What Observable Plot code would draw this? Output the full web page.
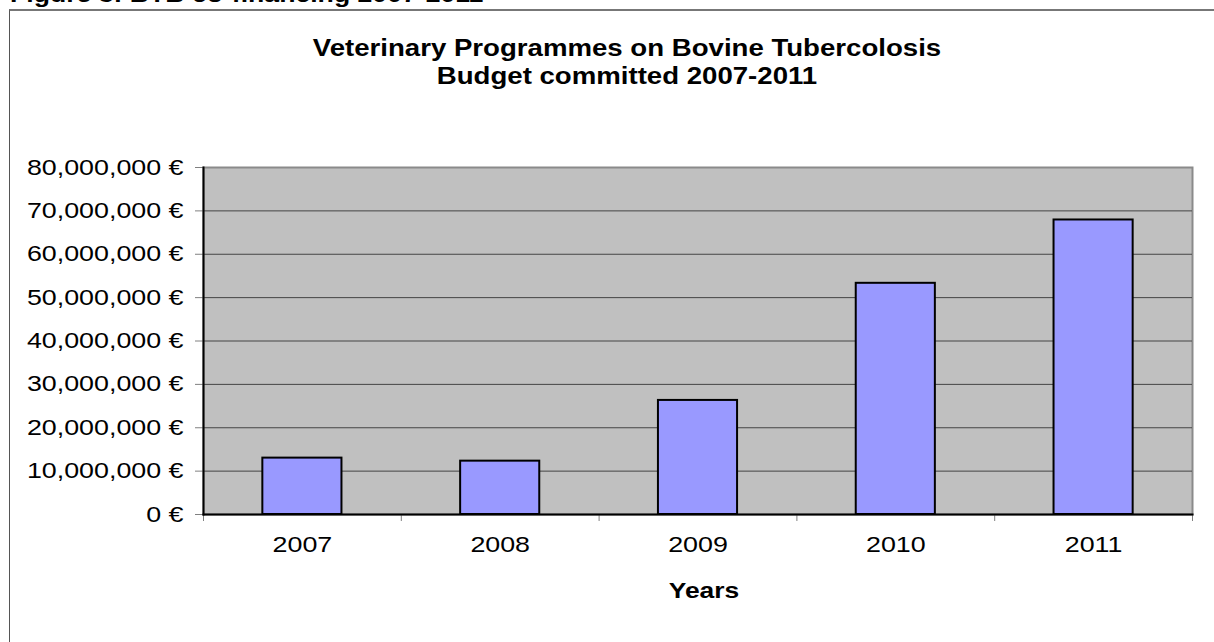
<!DOCTYPE html>
<html>
<head>
<meta charset="utf-8">
<script src="https://cdn.jsdelivr.net/npm/d3@7"></script>
<script src="https://cdn.jsdelivr.net/npm/@observablehq/plot@0.6"></script>
<style>
  html, body { margin: 0; padding: 0; background: #fff; overflow: hidden; }
  body { width: 1214px; height: 642px; position: relative; font-family: "Liberation Sans", Arial, sans-serif; }
  #frame { position: absolute; left: 9px; top: 9px; width: 1300px; height: 700px; border-left: 1px solid #555; border-top: 2px solid #777; }
  .t { position: absolute; white-space: nowrap; color: #000; }
  #caption { left: 10px; top: -18px; font-size: 22px; font-weight: bold; transform: scaleX(1.21); transform-origin: left center; }
  #title { left: 0; width: 1254px; top: 34px; text-align: center; font-size: 23px; font-weight: bold; line-height: 28px; transform: scaleX(1.2); transform-origin: 627px center; }
  #xlabel { left: 0; width: 1408px; top: 578px; text-align: center; font-size: 22px; font-weight: bold; transform: scaleX(1.2); transform-origin: 704px center; }
  #chart { position: absolute; left: 0; top: 0; }
</style>
</head>
<body>
<div id="frame"></div>
<div class="t" id="caption">Figure 3: BTB co-financing 2007-2011</div>
<div class="t" id="title">Veterinary Programmes on Bovine Tubercolosis<br>Budget committed 2007-2011</div>
<div class="t" id="xlabel">Years</div>
<div id="chart"></div>
<script>
const years = [2007, 2008, 2009, 2010, 2011];
const budget = [13000000, 12300000, 26300000, 53300000, 67900000];
const yTicks = [0, 10000000, 20000000, 30000000, 40000000, 50000000, 60000000, 70000000, 80000000];
const xBoundaries = [2006.5, 2007.5, 2008.5, 2009.5, 2010.5, 2011.5];

const data = years.map((y, i) => ({year: y, value: budget[i]}));
const fmt = d3.format(",");

const chart = Plot.plot({
  width: 1214,
  height: 642,
  marginLeft: 203,
  marginRight: 22,
  marginTop: 167,
  marginBottom: 128,
  style: {fontFamily: '"Liberation Sans", Arial, sans-serif', fontSize: "22px", color: "#000", background: "transparent"},
  x: {domain: [2006.5, 2011.5]},
  y: {domain: [0, 80000000]},
  marks: [
    Plot.frame({fill: "#c0c0c0", stroke: "#8a8a8a", strokeWidth: 2}),
    Plot.gridY(yTicks.slice(1, -1), {stroke: "#444", strokeOpacity: 1, strokeWidth: 1}),
    Plot.rectY(data, {x1: d => d.year - 0.2, x2: d => d.year + 0.2, y: "value", fill: "#9999ff", stroke: "#000", strokeWidth: 2}),
    Plot.axisY(yTicks, {tickFormat: d => fmt(d) + " €", tickSize: 8, tickPadding: 12, stroke: "#808080", fill: "#000", label: null}),
    Plot.axisX(xBoundaries, {tickFormat: () => "", tickSize: 7, stroke: "#808080", label: null}),
    Plot.axisX(years, {tickFormat: d => String(d), tickSize: 0, tickPadding: 22, fill: "#000", label: null}),
    Plot.frame({anchor: "left", stroke: "#000", strokeWidth: 2}),
    Plot.frame({anchor: "bottom", stroke: "#000", strokeWidth: 2})
  ]
});
// widen tick label glyphs horizontally to match the reference's stretched lettering
d3.select(chart).selectAll('g[aria-label$="tick label"] text').each(function() {
  const t = this.getAttribute("transform") || "";
  this.setAttribute("transform", t + " scale(1.22,1)");
});
document.getElementById("chart").appendChild(chart);
</script>
</body>
</html>
